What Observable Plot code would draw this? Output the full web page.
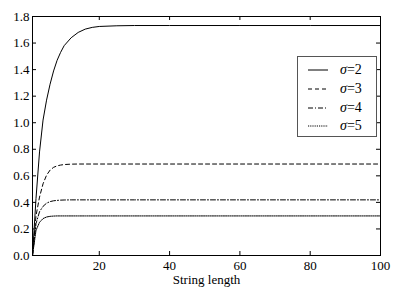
<!DOCTYPE html>
<html><head><meta charset="utf-8">
<script src="https://cdn.jsdelivr.net/npm/d3@7"></script>
<script src="https://cdn.jsdelivr.net/npm/@observablehq/plot@0.6"></script>
</head><body style="margin:0;background:#fff;">
<div id="wrap" style="position:relative;width:400px;height:300px;font-family:'Liberation Serif';"><div id="legend" style="position:absolute;left:297px;top:56px;width:80px;height:81px;border:1px solid #555;background:#fff;box-sizing:border-box;font-size:14px;font-family:'Liberation Serif';"></div></div>
<script>
const lengths = [1,2,3,4,5,6,7,8,9,10,12,14,16,18,20,25,30,40,60,80,100];
const sigmas = ["2","3","4","5"];
const sigma2 = [0,0.43,0.78,1.02,1.17,1.29,1.39,1.47,1.53,1.58,1.64,1.68,1.705,1.718,1.725,1.73,1.732,1.732,1.732,1.732,1.732];
const sigma3 = [0,0.30,0.44,0.54,0.605,0.643,0.664,0.675,0.681,0.685,0.688,0.689,0.689,0.689,0.689,0.689,0.689,0.689,0.689,0.689,0.689];
const sigma4 = [0,0.24,0.33,0.37,0.394,0.406,0.412,0.415,0.417,0.418,0.419,0.419,0.419,0.419,0.419,0.419,0.419,0.419,0.419,0.419,0.419];
const sigma5 = [0,0.19,0.25,0.278,0.29,0.295,0.297,0.298,0.298,0.298,0.298,0.298,0.298,0.298,0.298,0.298,0.298,0.298,0.298,0.298,0.298];
const xTicks = [20,40,60,80,100];
const yTicks = [0,0.2,0.4,0.6,0.8,1.0,1.2,1.4,1.6,1.8];
const dashes = [null,"4,3","5,2,1,2","1.2,1"];
const series = [sigma2, sigma3, sigma4, sigma5];

const W=400,H=300,mL=32,mR=20,mT=16,mB=45;
const innerW=W-mL-mR, innerH=H-mT-mB;
const FONT = "Liberation Serif";

const lineMarks = series.map((vals,i)=>{
  const rows = lengths.map((x,j)=>({x, y: vals[j]}));
  return Plot.line(rows,{x:"x",y:"y",stroke:"black",strokeWidth:1,strokeDasharray:dashes[i]??undefined});
});

const chart = Plot.plot({
  width:W,height:H,marginLeft:mL,marginRight:mR,marginTop:mT,marginBottom:mB,
  style:{fontSize:"13px",fontFamily:FONT,color:"black",background:"white"},
  x:{domain:[1,100]},
  y:{domain:[0,1.8]},
  marks:[
    ...lineMarks,
    Plot.tickX(xTicks,{x:d=>d,insetTop:innerH-4,stroke:"black"}),
    Plot.tickX(xTicks,{x:d=>d,insetBottom:innerH-4,stroke:"black"}),
    Plot.tickY(yTicks,{y:d=>d,insetRight:innerW-4,stroke:"black"}),
    Plot.tickY(yTicks,{y:d=>d,insetLeft:innerW-4,stroke:"black"}),
    Plot.axisX(xTicks,{tickSize:0,tickPadding:5,fontSize:13,label:"String length",labelAnchor:"center",labelArrow:"none",labelOffset:28}),
    Plot.axisY(yTicks,{tickSize:0,tickPadding:3,fontSize:13,tickFormat:".1f",label:null}),
    Plot.frame({stroke:"black",strokeWidth:1})
  ]
});
chart.setAttribute("font-family", FONT);
chart.setAttribute("font-size", "13");
chart.querySelectorAll("text").forEach(t=>{
  t.setAttribute("font-family", FONT);
  t.style.fontFamily = "'Liberation Serif'";
  t.style.fontSize = "13px";
});
document.getElementById("wrap").prepend(chart);

const legend = document.getElementById("legend");
const rowTops = [4,23,42,60];
sigmas.forEach((s,i)=>{
  const row = document.createElement("div");
  row.style.cssText = `position:absolute;left:0;top:${rowTops[i]}px;width:78px;height:18px;font-family:'Liberation Serif';font-size:14px;`;
  const da = dashes[i] ? ` stroke-dasharray="${dashes[i]}"` : "";
  row.innerHTML = `<svg width="22" height="18" style="position:absolute;left:9px;top:0"><line x1="1" x2="21" y1="9" y2="9" stroke="black" stroke-width="1"${da}/></svg><span style="position:absolute;left:42px;top:0;line-height:18px;white-space:nowrap;font-family:'Liberation Serif'"><i>σ</i>=${s}</span>`;
  legend.appendChild(row);
});
</script>
</body></html>
